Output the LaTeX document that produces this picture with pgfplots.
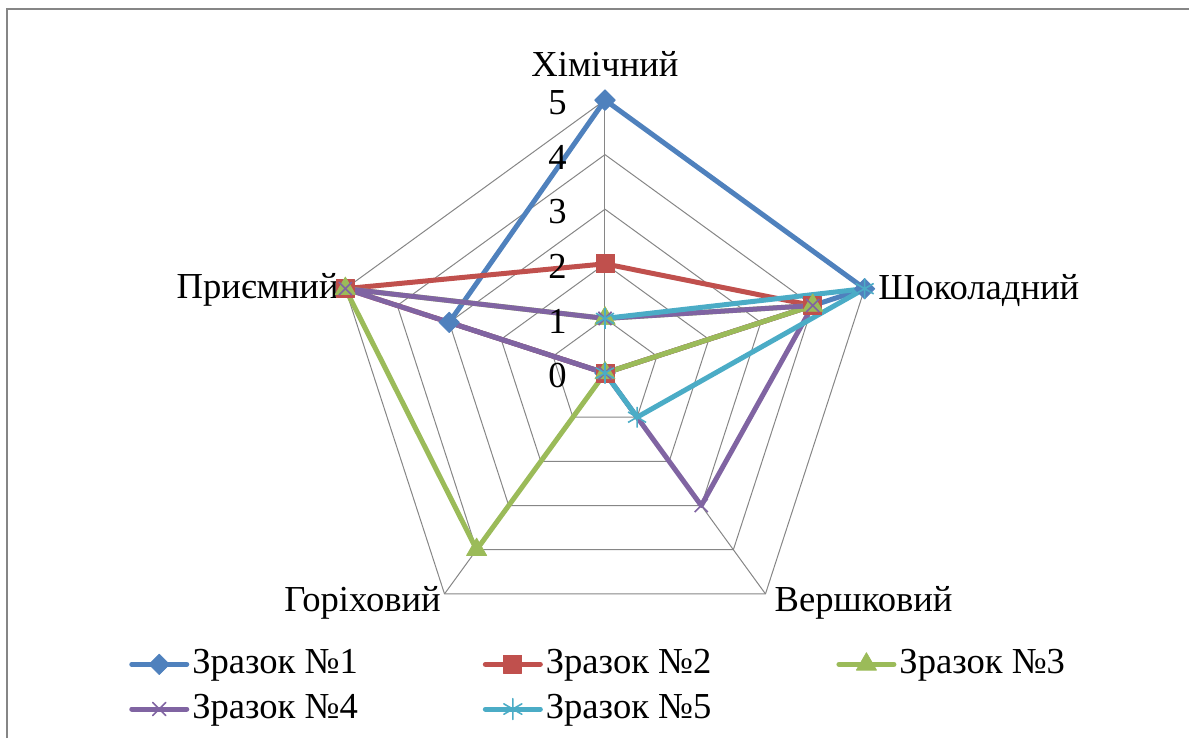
\documentclass[border=0pt]{standalone}
\usepackage{fontspec}
\setmainfont{Liberation Serif}
\usepackage{pgfplots}
\pgfplotsset{compat=1.18}
\definecolor{sA}{HTML}{4F81BD}
\definecolor{sB}{HTML}{C0504D}
\definecolor{sC}{HTML}{9BBB59}
\definecolor{sD}{HTML}{8064A2}
\definecolor{sE}{HTML}{4BACC6}
\definecolor{gridc}{HTML}{868686}
\begin{document}
\fontsize{18.3}{22}\selectfont
\begin{tikzpicture}
\begin{axis}[
  x=27.3pt, y=27.3pt,
  xmin=-11.08, xmax=10.696, ymin=-6.685, ymax=6.832,
  hide axis, clip=false,
  legend columns=3,
  legend cell align=left,
  legend style={draw=none, fill=none, at={(axis cs:-8.72,-5.0)}, anchor=north west,
    font=\fontsize{18.3}{22}\selectfont, inner sep=0pt,
    nodes={inner sep=1.5pt}, row sep=4.5pt,
    /tikz/every even column/.append style={column sep=61pt}},
  legend image code/.code={\draw[mark repeat=2,mark phase=2,line cap=round,#1] plot coordinates {(0pt,0pt) (13.75pt,0pt) (27.5pt,0pt)};},
  every axis plot/.append style={line width=2.5pt, line join=round, data cs=polar},
]
% grid pentagons
\addplot[gridc, line width=0.5pt, forget plot] coordinates {(90,1) (18,1) (-54,1) (-126,1) (162,1) (90,1)};
\addplot[gridc, line width=0.5pt, forget plot] coordinates {(90,2) (18,2) (-54,2) (-126,2) (162,2) (90,2)};
\addplot[gridc, line width=0.5pt, forget plot] coordinates {(90,3) (18,3) (-54,3) (-126,3) (162,3) (90,3)};
\addplot[gridc, line width=0.5pt, forget plot] coordinates {(90,4) (18,4) (-54,4) (-126,4) (162,4) (90,4)};
\addplot[gridc, line width=0.5pt, forget plot] coordinates {(90,5) (18,5) (-54,5) (-126,5) (162,5) (90,5)};
% spokes
\addplot[gridc, line width=0.5pt, forget plot] coordinates {(90,0) (90,5)};
\addplot[gridc, line width=0.5pt, forget plot] coordinates {(18,0) (18,5)};
\addplot[gridc, line width=0.5pt, forget plot] coordinates {(-54,0) (-54,5)};
\addplot[gridc, line width=0.5pt, forget plot] coordinates {(-126,0) (-126,5)};
\addplot[gridc, line width=0.5pt, forget plot] coordinates {(162,0) (162,5)};
% series (Хімічний 90, Шоколадний 18, Вершковий -54, Горіховий -126, Приємний 162)
\addplot[sA, mark=square*, mark size=3.6pt, mark options={rotate=45, line width=0.4pt}]
  coordinates {(90,5) (18,5) (-54,0) (-126,0) (162,3) (90,5)};
\addlegendentry{Зразок №1}
\addplot[sB, mark=square*, mark size=4.5pt, mark options={line width=0.4pt}]
  coordinates {(90,2) (18,4) (-54,0) (-126,0) (162,5) (90,2)};
\addlegendentry{Зразок №2}
\addplot[sC, mark=triangle*, mark size=5.8pt, mark options={line width=0.4pt}]
  coordinates {(90,1) (18,4) (-54,0) (-126,4) (162,5) (90,1)};
\addlegendentry{Зразок №3}
\addplot[sD, mark=x, mark size=4.6pt, mark options={line width=0.8pt}]
  coordinates {(90,1) (18,4) (-54,3) (-126,0) (162,5) (90,1)};
\addlegendentry{Зразок №4}
\addplot[sE, mark=asterisk, mark size=5.2pt, mark options={line width=0.8pt}]
  coordinates {(90,1) (18,5) (-54,1) (-126,0)};
\addlegendentry{Зразок №5}
% radial value labels
\node[anchor=east] at (axis cs:-0.47,4.95) {5};
\node[anchor=east] at (axis cs:-0.47,3.95) {4};
\node[anchor=east] at (axis cs:-0.47,2.95) {3};
\node[anchor=east] at (axis cs:-0.47,1.95) {2};
\node[anchor=east] at (axis cs:-0.47,0.95) {1};
\node[anchor=east] at (axis cs:-0.47,-0.05) {0};
% category labels
\node at (axis cs:0,5.66) {Хімічний};
\node[anchor=west, inner sep=0pt] at (axis cs:5.0,1.52) {Шоколадний};
\node[anchor=east, inner sep=0pt] at (axis cs:-4.87,1.52) {Приємний};
\node[anchor=east, inner sep=0pt] at (axis cs:-3.0,-4.21) {Горіховий};
\node[anchor=west, inner sep=0pt] at (axis cs:3.1,-4.21) {Вершковий};
% frame
\draw[gridc, line width=1pt] (axis cs:-10.95,-6.685) -- (axis cs:-10.95,6.667) -- (axis cs:10.696,6.667);
\coordinate (SW) at (rel axis cs:0,0);
\coordinate (NE) at (rel axis cs:1,1);
\end{axis}
\pgfresetboundingbox
\path (SW) rectangle (NE);
\end{tikzpicture}
\end{document}
